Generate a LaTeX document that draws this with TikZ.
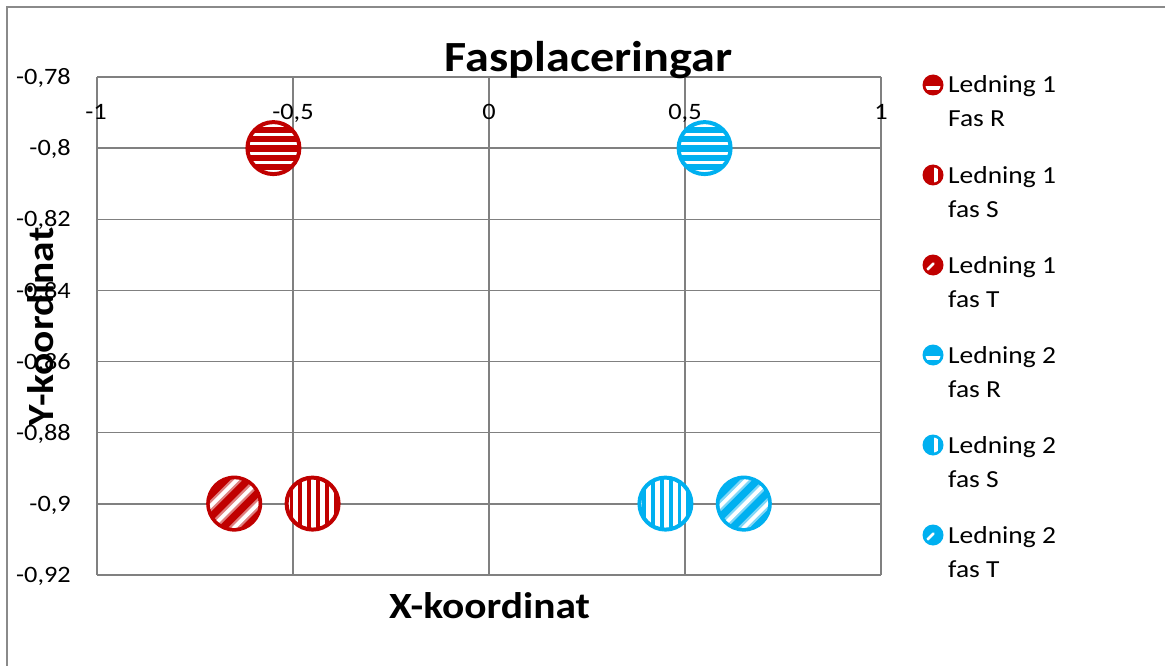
\documentclass[tikz,border=0pt]{standalone}
\usepackage{fontspec}
\setmainfont{Carlito}[FakeStretch=1.12]
\definecolor{lred}{HTML}{C00000}
\definecolor{lblue}{HTML}{00B0F0}
\definecolor{gridgray}{HTML}{808080}
\definecolor{framegray}{HTML}{8A8A8A}
% big markers
\newcommand\mkH[3]{%
 \begin{scope}[shift={(#1,#2)}]
  \fill[white] (0,0) circle (27);
  \begin{scope}
   \clip (0,0) circle (26);
   \foreach \k in {-3,...,3} \fill[#3] (-30,{\k*9.3+0.5-3.1}) rectangle (30,{\k*9.3+0.5+3.1});
  \end{scope}
  \draw[#3, line width=4] (0,0) circle (26);
 \end{scope}}
\newcommand\mkV[3]{%
 \begin{scope}[shift={(#1,#2)}]
  \fill[white] (0,0) circle (27);
  \begin{scope}
   \clip (0,0) circle (26);
   \foreach \k in {-3,...,3} \fill[#3] ({\k*8.8-3.5-1.9},-30) rectangle ({\k*8.8-3.5+1.9},30);
  \end{scope}
  \draw[#3, line width=4] (0,0) circle (26);
 \end{scope}}
\newcommand\mkD[3]{%
 \begin{scope}[shift={(#1,#2)}]
  \fill[#3] (0,0) circle (28);
  \begin{scope}
   \clip (0,0) circle (24.3);
   \foreach \d in {-15,1,17} {
     \draw[white, opacity=0.5, line width=8.5] ({\d*0.7071-32},{\d*0.7071+32}) -- ({\d*0.7071+32},{\d*0.7071-32});
     \draw[white, line width=3.8] ({\d*0.7071-32},{\d*0.7071+32}) -- ({\d*0.7071+32},{\d*0.7071-32});
   }
  \end{scope}
 \end{scope}}
% legend markers
\newcommand\lgH[3]{%
 \begin{scope}[shift={(#1,#2)}]
  \fill[#3] (0,0) circle (10.5);
  \begin{scope}\clip (0,0) circle (7.6);
   \fill[white] (-10,0.8) rectangle (10,5.2);
  \end{scope}
 \end{scope}}
\newcommand\lgV[3]{%
 \begin{scope}[shift={(#1,#2)}]
  \fill[#3] (0,0) circle (10.5);
  \begin{scope}\clip (0,0) circle (7.6);
   \fill[white] (0.6,-10) rectangle (5.4,10);
  \end{scope}
 \end{scope}}
\newcommand\lgD[3]{%
 \begin{scope}[shift={(#1,#2)}]
  \fill[#3] (0,0) circle (10.5);
  \begin{scope}\clip (0,0) circle (7.6);
   \draw[white, line width=2.6, line cap=round] (-5.5,4.5) -- (0.5,-1.5);
  \end{scope}
 \end{scope}}
\begin{document}
\begin{tikzpicture}[x=1pt,y=-1pt,
  gridline/.style={draw=gridgray, line width=1.5},
  ticklbl/.style={inner sep=0, font=\fontsize{23.5}{28}\selectfont},
  axtitle/.style={inner sep=0, font=\fontsize{37}{44}\selectfont\bfseries},
  legtext/.style={inner sep=0, anchor=base west, align=left, font=\fontsize{24.5}{34}\selectfont}]
\useasboundingbox (0,0) rectangle (1165,666);
\fill[white] (0,0) rectangle (1165,666);
% frame
\draw[framegray, line width=2] (7,666) -- (7,7) -- (1165,7);
% grid
\foreach \i in {0,...,7} \draw[gridline] (97,{77+71.1429*\i}) -- (881,{77+71.1429*\i});
\foreach \x in {-1,-0.5,0,0.5,1} \draw[gridline] ({489+392*\x},77) -- ({489+392*\x},575);
% y tick labels
\node[ticklbl, anchor=base east] (y78) at (71,{77+7.7}) {-0,78};
\node[ticklbl, anchor=base east] (y80) at (71,{148.14+7.7}) {-0,8};
\node[ticklbl, anchor=base east] (y82) at (71,{219.29+7.7}) {-0,82};
\node[ticklbl, anchor=base east] (y84) at (71,{290.43+7.7}) {-0,84};
\node[ticklbl, anchor=base east] (y86) at (71,{361.57+7.7}) {-0,86};
\node[ticklbl, anchor=base east] (y88) at (71,{432.71+7.7}) {-0,88};
\node[ticklbl, anchor=base east] (y90) at (71,{503.86+7.7}) {-0,9};
\node[ticklbl, anchor=base east] (y92) at (71,{575+7.7}) {-0,92};
% x tick labels
\node[ticklbl, anchor=base] (xm1) at (96,120) {-1};
\node[ticklbl, anchor=base] (xm05) at (293,120) {-0,5};
\node[ticklbl, anchor=base] (x0) at (489,120) {0};
\node[ticklbl, anchor=base] (x05) at (685,120) {0,5};
\node[ticklbl, anchor=base] (x1) at (881,120) {1};
% titles
\node[inner sep=0, anchor=base, font=\fontsize{43}{50}\selectfont\bfseries] (title) at (588.5,72) {Fasplaceringar};
\node[axtitle, anchor=base] (xtitle) at (489.5,618) {X-koordinat};
\node[axtitle, anchor=base, rotate=90] (ytitle) at (53,327) {Y-koordinat};
% data markers
\mkH{273.4}{148.1}{lred}
\mkV{312.6}{503.6}{lred}
\mkD{234.2}{503.6}{lred}
\mkH{704.6}{148.1}{lblue}
\mkV{665.4}{503.6}{lblue}
\mkD{743.8}{503.6}{lblue}
% legend (node base = baseline of the second line)
\lgH{933}{85}{lred}
\node[legtext] (l1) at (948,127) {Ledning 1\\Fas R};
\lgV{933}{175}{lred}
\node[legtext] (l2) at (948,217) {Ledning 1\\fas S};
\lgD{933}{265}{lred}
\node[legtext] (l3) at (948,307) {Ledning 1\\fas T};
\lgH{933}{355}{lblue}
\node[legtext] (l4) at (948,397) {Ledning 2\\fas R};
\lgV{933}{445}{lblue}
\node[legtext] (l5) at (948,487) {Ledning 2\\fas S};
\lgD{933}{535}{lblue}
\node[legtext] (l6) at (948,577) {Ledning 2\\fas T};
\end{tikzpicture}
\end{document}
